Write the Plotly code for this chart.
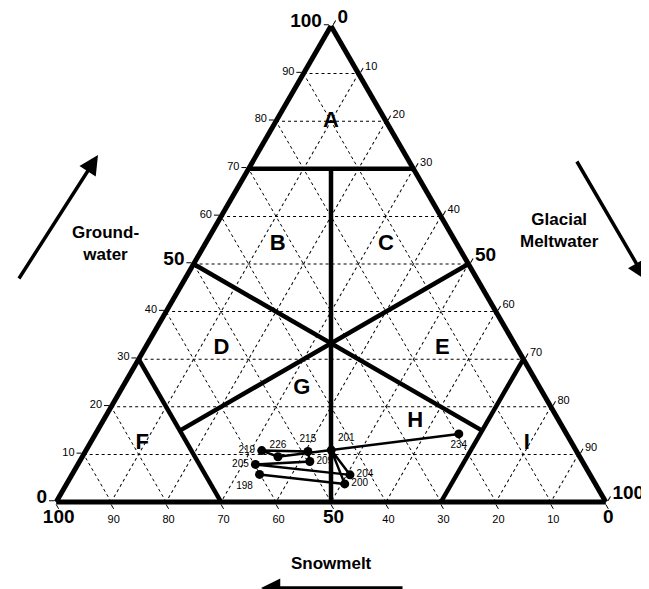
import plotly.graph_objects as go

# sample days and end-member fractions (%)
days = ["198", "200", "201", "204", "205", "209", "215", "219", "226", "234"]
groundwater = [5.8, 3.8, 10.9, 5.7, 7.9, 8.5, 10.6, 10.8, 9.5, 14.3]
snowmelt = [60.1, 45.6, 44.5, 43.7, 59.8, 49.6, 48.9, 57.2, 54.9, 19.6]
glacial = [34.1, 50.6, 44.6, 50.6, 32.3, 41.9, 40.5, 32.0, 35.6, 66.1]
day_label_pos = ["bottom left", "middle right", "top right", "middle right", "middle left",
                 "middle right", "top center", "middle left", "top center", "bottom center"]

# field boundaries, each as (groundwater, snowmelt, glacial) end points
boundaries = [
    [(70, 30, 0), (70, 0, 30)],
    [(70, 15, 15), (0, 50, 50)],
    [(50, 50, 0), (15, 15, 70)],
    [(50, 0, 50), (15, 70, 15)],
    [(30, 70, 0), (0, 70, 30)],
    [(30, 0, 70), (0, 30, 70)],
]

field_names = ["A", "B", "C", "D", "E", "G", "H", "F", "I"]
field_gw = [80, 54, 54, 32.3, 32.3, 23.8, 17, 12.3, 12.3]
field_sm = [10, 32.7, 13, 53.8, 13.6, 43.4, 26.2, 78.2, 8.2]
field_gm = [10, 13.3, 33, 13.9, 54.1, 32.8, 56.8, 9.5, 79.5]

tick_vals = list(range(0, 101, 10))
big = "<span style='font-size:19px'><b>%s</b></span>"


def tick_text(vals):
    out = []
    for v in vals:
        if v in (0, 50, 100):
            out.append(big % v)
        else:
            out.append(str(v))
    return out


fig = go.Figure()

for seg in boundaries:
    fig.add_trace(go.Scatterternary(
        a=[p[0] for p in seg], b=[p[1] for p in seg], c=[p[2] for p in seg],
        mode="lines", line=dict(color="black", width=4.5),
        showlegend=False, hoverinfo="skip",
    ))

fig.add_trace(go.Scatterternary(
    a=field_gw, b=field_sm, c=field_gm, text=["<b>%s</b>" % n for n in field_names],
    mode="text", textfont=dict(size=22, color="black"),
    showlegend=False, hoverinfo="skip",
))

fig.add_trace(go.Scatterternary(
    a=groundwater, b=snowmelt, c=glacial, text=days,
    mode="lines+markers+text", textposition=day_label_pos,
    textfont=dict(size=10, color="black"),
    line=dict(color="black", width=2.5),
    marker=dict(color="black", size=9),
    showlegend=False,
))

axis_common = dict(
    min=0, title=dict(text=""),
    tickmode="array", tickvals=tick_vals, ticktext=tick_text(tick_vals),
    ticks="outside", ticklen=5, tickcolor="black", tickwidth=1,
    linecolor="black", linewidth=5, showline=True,
    showgrid=True, gridcolor="black", gridwidth=0.7, griddash="dot",
    tickfont=dict(size=11, color="#000000"),
)

fig.update_layout(
    width=649, height=589,
    margin=dict(l=0, r=0, t=0, b=0),
    paper_bgcolor="white",
    font=dict(family="Arial, Liberation Sans, sans-serif", color="black"),
    ternary=dict(
        sum=100,
        bgcolor="white",
        domain=dict(x=[48 / 649, 598 / 649], y=[95 / 589, 571 / 589]),
        aaxis=axis_common,
        baxis=axis_common,
        caxis=axis_common,
    ),
)

label_font = dict(size=17, color="black", family="Arial, Liberation Sans, sans-serif")
titles = [("<b>Ground-<br>water</b>", 97, 235),
          ("<b>Glacial<br>Meltwater</b>", 551, 222),
          ("<b>Snowmelt</b>", 323, 555)]
for txt, px, py in titles:
    fig.add_annotation(x=px / 649, y=1 - py / 589, xref="paper", yref="paper",
                       xanchor="center", yanchor="middle",
                       text=txt, showarrow=False, font=label_font)

arrows = [((90, 147), (10, 272)), ((638, 272), (568, 152)), ((253, 580), (396, 580))]
for head, tail in arrows:
    fig.add_annotation(
        x=head[0] / 649, y=1 - head[1] / 589, xref="paper", yref="paper",
        ax=tail[0] - head[0], ay=tail[1] - head[1], axref="pixel", ayref="pixel",
        text="", showarrow=True, arrowhead=2, arrowsize=1.1, arrowwidth=3.5, arrowcolor="black",
    )

fig.write_html("out.html")
